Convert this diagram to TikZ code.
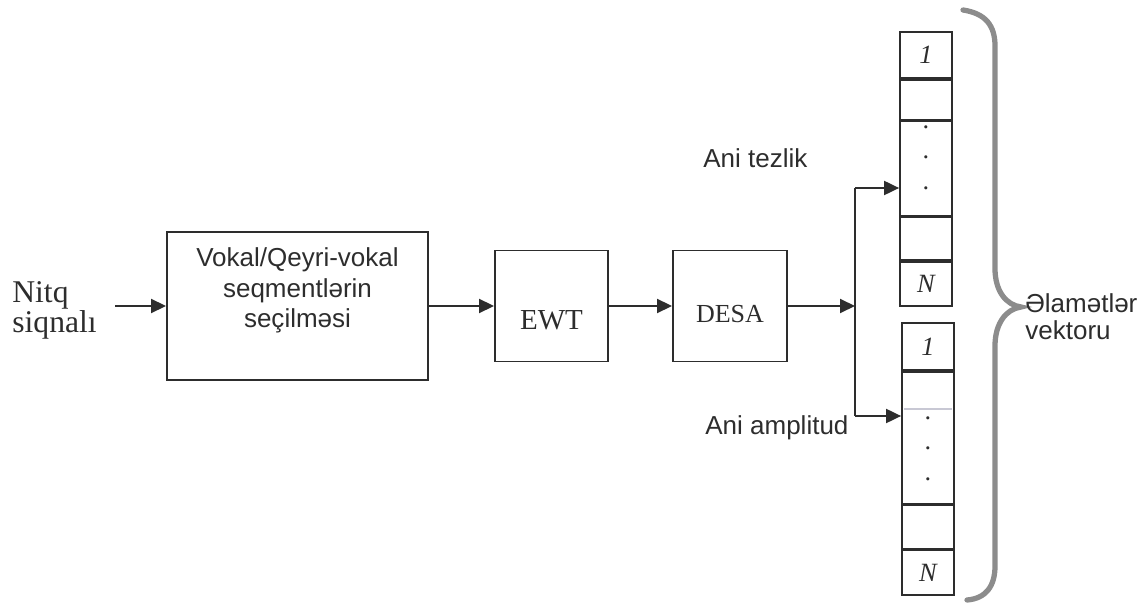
\documentclass[tikz,border=0pt]{standalone}
\usepackage{fontspec}
\setmainfont{Liberation Serif}
\setsansfont{Liberation Sans}
\usetikzlibrary{arrows.meta,positioning}
\definecolor{ink}{RGB}{45,45,45}
\definecolor{bracegray}{RGB}{140,140,140}
\definecolor{faintline}{RGB}{200,200,212}
\begin{document}
\begin{tikzpicture}[
  color=ink,
  blk/.style={draw, line width=1.1pt, inner sep=0pt},
  cell/.style={draw, line width=1pt, inner sep=0pt, minimum width=1.04cm,
    font=\fontsize{15}{15}\selectfont\itshape},
  dotcol/.style={inner sep=0pt, align=center, font=\fontsize{15}{17.3}\selectfont},
  sanslab/.style={font=\sffamily\fontsize{14.8}{17.5}\selectfont, align=center},
  seriflab/.style={font=\fontsize{18}{17}\selectfont, align=left, inner sep=0pt},
  arr/.style={-{Triangle[length=0.3cm,width=0.28cm]}, line width=1.1pt},
  wire/.style={line width=1.1pt}
]
\useasboundingbox (0,0) rectangle (22.86,12.12);

\node[seriflab, anchor=west] (src) at (0.24,5.91) {Nitq\\siqnalı};
\coordinate (sig) at (2.3,6.0);

\node[blk, sanslab, minimum width=5.22cm, minimum height=2.96cm,
  text height=0.98cm, text depth=0.1cm] (sel) at (5.95,6.0)
  {Vokal/Qeyri-vokal\\seqmentlərin\\seçilməsi};
\node[blk, minimum width=2.26cm, minimum height=2.22cm,
  font=\fontsize{16.5}{16.5}\selectfont, text height=0.96cm, text depth=0pt]
  (ewt) at (11.03,6.0) {EWT};
\node[blk, minimum width=2.28cm, minimum height=2.22cm,
  font=\fontsize{14.8}{14.8}\selectfont, text height=0.68cm, text depth=0pt]
  (desa) at (14.6,6.0) {DESA};

\coordinate (junc) at (17.1,6.0);
\coordinate (jtop) at (17.1,8.36);
\coordinate (jbot) at (17.1,3.8);

% frequency vector
\node[cell, minimum height=0.92cm] (fa1) at (18.52,11.02) {1};
\node[cell, minimum height=0.8cm, below=0pt of fa1] (fa2) {};
\node[cell, minimum height=1.88cm, below=0pt of fa2] (fa3) {};
\node[cell, minimum height=0.86cm, below=0pt of fa3] (fa4) {};
\node[cell, minimum height=0.88cm, below=0pt of fa4] (fa5) {N};
\node[dotcol] (fadots) at (18.52,8.97) {.\\.\\.};

% amplitude vector
\node[cell, minimum height=0.94cm] (fb1) at (18.56,5.19) {1};
\node[cell, minimum height=2.64cm, below=0pt of fb1] (fb2) {};
\node[cell, minimum height=0.86cm, below=0pt of fb2] (fb3) {};
\node[cell, minimum height=0.9cm, below=0pt of fb3] (fb4) {N};
\node[dotcol] (fbdots) at (18.56,3.15) {.\\.\\.};
\draw[faintline, line width=0.8pt] ([xshift=0.06cm,yshift=-0.76cm]fb2.north west)
  -- ([xshift=-0.06cm,yshift=-0.76cm]fb2.north east);

\node[sanslab, anchor=base west, inner sep=0pt] (tez) at (14.06,8.76) {Ani tezlik};
\node[sanslab, anchor=base west, inner sep=0pt] (amp) at (14.1,3.42) {Ani amplitud};

\draw[arr] (sig) -- (sel);
\draw[arr] (sel) -- (ewt);
\draw[arr] (ewt) -- (desa);
\draw[arr] (desa) -- (junc);
\draw[wire] (jtop) -- (jbot);
\draw[arr] (jtop) -- (fa3.west |- jtop);
\draw[arr] (jbot) -- (fb2.west |- jbot);

\draw[bracegray, line width=3pt, line cap=round]
  (19.26,11.92) .. controls (19.72,11.85) and (19.9,11.6) .. (19.9,11.2)
  -- (19.9,6.75) .. controls (19.9,6.3) and (20.12,6.02) .. (20.42,5.98)
  .. controls (20.12,5.94) and (19.9,5.65) .. (19.9,5.2)
  -- (19.9,0.8) .. controls (19.9,0.4) and (19.72,0.15) .. (19.34,0.12);
\node[sanslab, font=\sffamily\fontsize{14.8}{15.4}\selectfont, align=left,
  anchor=west, inner sep=0pt] (vec) at (20.5,5.78) {Əlamətlər\\vektoru};
\end{tikzpicture}
\end{document}
